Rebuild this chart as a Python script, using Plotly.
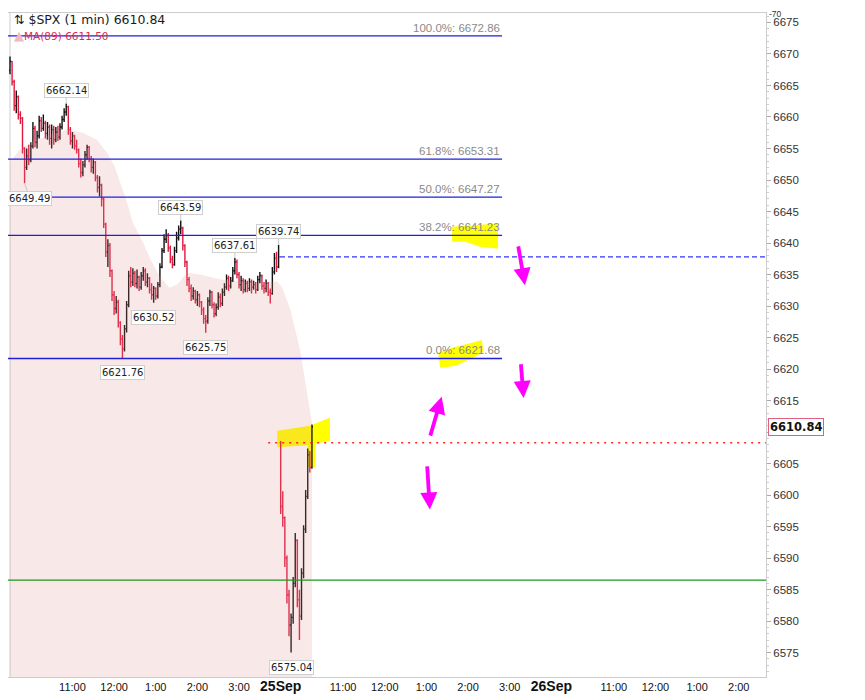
import plotly.graph_objects as go

# ---- price bars, 3-minute steps, minutes counted from 24Sep 9:30 (sessions joined) ----
open_24 = 6667.4
high_24 = [
    6669.6, 6668.9, 6665.9, 6664.2, 6663.4, 6660.9, 6660.0, 6655.2, 6655.0, 6655.6,
    6656.0, 6659.2, 6658.6, 6657.8, 6660.2, 6660.0, 6660.4, 6659.4, 6659.2, 6658.8,
    6658.8, 6658.6, 6658.4, 6658.6, 6659.0, 6660.2, 6661.4, 6662.14, 6661.8, 6658.4,
    6657.6, 6657.2, 6656.4, 6655.0, 6653.4, 6653.0, 6654.6, 6655.6, 6655.4, 6653.8,
    6653.4, 6653.0, 6650.8, 6650.6, 6649.4, 6647.2, 6643.2, 6640.6, 6640.0, 6635.8,
    6632.4, 6631.6, 6631.0, 6627.6, 6625.4, 6627.0, 6630.8, 6635.6, 6636.2, 6636.0,
    6635.6, 6635.8, 6634.8, 6635.4, 6636.2, 6636.0, 6635.2, 6634.6, 6633.6, 6633.2,
    6633.0, 6633.8, 6636.8, 6639.2, 6641.4, 6642.2, 6641.6, 6639.6, 6638.0, 6639.4,
    6641.8, 6642.8, 6643.59, 6642.6, 6639.8, 6637.2, 6634.6, 6633.4, 6633.0, 6632.6,
    6632.4, 6632.0, 6630.8, 6629.8, 6628.6, 6631.4, 6632.6, 6632.4, 6630.6, 6630.4,
    6632.2, 6632.0, 6632.8, 6633.6, 6635.0, 6634.8, 6634.6, 6636.2, 6637.61, 6637.4,
    6635.4, 6634.8, 6634.4, 6634.2, 6634.0, 6634.4, 6634.2, 6634.0, 6633.8, 6634.8,
    6635.4, 6635.0, 6633.8, 6634.2, 6633.8, 6632.8, 6636.2, 6638.4, 6638.6, 6639.74,
]
low_24 = [
    6666.8, 6665.0, 6661.0, 6660.6, 6659.6, 6658.9, 6654.2, 6649.49, 6651.6, 6652.4,
    6652.8, 6655.0, 6655.2, 6655.0, 6656.6, 6657.6, 6657.8, 6656.6, 6656.4, 6655.6,
    6655.0, 6655.6, 6656.0, 6656.2, 6656.4, 6658.0, 6659.2, 6660.2, 6657.2, 6655.6,
    6655.0, 6654.8, 6654.2, 6652.0, 6650.4, 6650.6, 6652.0, 6653.2, 6652.8, 6651.2,
    6651.0, 6649.8, 6648.0, 6647.4, 6645.8, 6642.4, 6637.8, 6636.2, 6634.6, 6630.8,
    6628.6, 6628.8, 6626.6, 6623.8, 6621.76, 6622.8, 6625.8, 6629.8, 6633.0, 6633.2,
    6633.0, 6632.8, 6632.4, 6632.6, 6634.0, 6633.2, 6633.0, 6632.0, 6631.0, 6630.52,
    6631.0, 6631.2, 6633.0, 6636.0, 6638.4, 6640.0, 6638.6, 6636.8, 6636.0, 6636.4,
    6638.4, 6640.4, 6641.4, 6638.8, 6636.2, 6633.2, 6632.2, 6630.8, 6631.0, 6630.4,
    6630.0, 6629.8, 6628.6, 6627.2, 6625.75, 6627.2, 6630.0, 6629.6, 6628.2, 6628.4,
    6629.4, 6629.8, 6630.0, 6631.6, 6632.6, 6632.4, 6632.8, 6633.8, 6635.0, 6634.4,
    6632.8, 6632.4, 6632.0, 6632.2, 6632.2, 6632.4, 6632.0, 6632.6, 6632.0, 6632.4,
    6633.6, 6632.6, 6632.0, 6632.2, 6631.6, 6630.4, 6631.8, 6635.0, 6635.4, 6636.0,
]
close_24 = [
    6668.8, 6665.6, 6661.8, 6663.2, 6660.4, 6659.8, 6655.0, 6652.0, 6653.8, 6653.2,
    6655.4, 6658.2, 6656.0, 6657.0, 6659.4, 6658.2, 6659.0, 6657.4, 6658.4, 6656.6,
    6658.0, 6656.4, 6657.6, 6656.8, 6658.4, 6659.6, 6660.8, 6661.6, 6658.0, 6656.2,
    6657.0, 6655.4, 6654.8, 6652.6, 6651.2, 6652.4, 6654.0, 6655.2, 6653.4, 6652.0,
    6652.8, 6650.4, 6648.8, 6649.2, 6647.0, 6643.0, 6638.6, 6639.6, 6635.6, 6631.8,
    6629.6, 6630.6, 6627.4, 6624.8, 6623.2, 6626.4, 6630.2, 6634.8, 6633.8, 6635.2,
    6633.6, 6634.6, 6633.0, 6634.8, 6635.6, 6633.8, 6634.4, 6632.6, 6631.8, 6632.8,
    6631.6, 6633.4, 6636.2, 6638.8, 6640.6, 6641.2, 6639.2, 6637.4, 6636.6, 6638.8,
    6640.8, 6642.2, 6642.4, 6639.6, 6637.0, 6634.2, 6632.8, 6631.6, 6632.4, 6631.0,
    6631.8, 6630.6, 6629.4, 6628.0, 6627.6, 6630.8, 6632.2, 6630.2, 6628.8, 6629.8,
    6631.4, 6630.4, 6632.2, 6633.0, 6634.4, 6633.2, 6634.0, 6635.6, 6637.0, 6635.0,
    6633.4, 6634.0, 6632.6, 6633.6, 6632.8, 6633.8, 6633.0, 6633.4, 6632.6, 6634.2,
    6634.8, 6633.2, 6632.8, 6633.6, 6632.2, 6632.0, 6635.4, 6637.6, 6636.2, 6637.8,
]

open_25 = 6608.3
high_25 = [6608.6, 6600.6, 6596.6, 6590.4, 6585.0, 6581.2, 6587.0, 6594.0,
           6593.0, 6585.0, 6588.4, 6595.2, 6600.8, 6607.4, 6607.0, 6611.2]
low_25 = [6597.0, 6595.0, 6588.6, 6582.8, 6577.6, 6575.04, 6579.6, 6585.4,
          6582.2, 6577.0, 6580.2, 6586.8, 6594.0, 6599.4, 6603.6, 6604.2]
close_25 = [6598.2, 6596.4, 6590.0, 6584.2, 6579.4, 6580.6, 6586.0, 6592.8,
            6583.4, 6580.8, 6587.6, 6594.6, 6599.8, 6606.4, 6604.4, 6610.84]

bar_minutes = list(range(0, 390, 3)) + list(range(390, 438, 3))

# MA(89) read at a few points
ma_minutes = [0, 14, 33, 58, 82, 105, 125, 140, 151, 163, 170, 177, 192, 202, 216,
              230, 241, 255, 274, 303, 336, 360, 385, 392, 404, 418, 425, 435]
ma_values = [6652.9, 6654.8, 6656.1, 6657.2, 6658.0, 6657.5, 6656.4, 6654.3, 6652.1,
             6648.0, 6646.0, 6643.2, 6640.0, 6637.5, 6634.6, 6632.9, 6633.4, 6635.3,
             6635.0, 6634.2, 6633.9, 6633.7, 6633.9, 6633.0, 6629.4, 6623.0, 6618.3, 6611.5]

# fibonacci retracement
fib_pcts = ["100.0%", "61.8%", "50.0%", "38.2%", "0.0%"]
fib_values = [6672.86, 6653.31, 6647.27, 6641.23, 6621.68]
fib_end = 709

green_level = 6586.5
open_level = 6608.3
prev_close_level = 6637.8

# swing labels: bar index, value, above/below
swing_idx = [27, 7, 82, 129, 108, 69, 94, 54, 135]
swing_val = [6662.14, 6649.49, 6643.59, 6639.74, 6637.61, 6630.52, 6625.75, 6621.76, 6575.04]
swing_high = [True, False, True, True, True, False, False, False, False]
swing_dx = [0, 5, 0, 0, 0, 0, 0, 0, 0]

# x axis
tick_minutes = [0, 90, 150, 210, 270, 330, 390, 480, 540, 600, 660, 720,
                780, 870, 930, 990, 1050]
tick_labels = ["24Sep", "11:00", "12:00", "1:00", "2:00", "3:00", "25Sep", "11:00",
               "12:00", "1:00", "2:00", "3:00", "26Sep", "11:00", "12:00", "1:00", "2:00"]
day_labels = {"24Sep", "25Sep", "26Sep"}

# hand drawn marks (minutes, price)
arrow_tail_min = [732, 736, 605, 601]
arrow_tail_val = [6639.7, 6621.0, 6609.2, 6604.8]
arrow_tip_min = [742, 740, 622, 605]
arrow_tip_val = [6633.3, 6615.4, 6615.6, 6597.7]

yellow_blobs = [
    ([637, 703, 703, 677, 656, 637], [6642.6, 6643.1, 6639.1, 6639.4, 6640.2, 6640.2]),
    ([617, 637, 660, 680, 682, 662, 641, 620],
     [6622.6, 6623.4, 6624.0, 6624.6, 6622.7, 6621.5, 6620.5, 6620.2]),
    ([385, 432, 450, 461, 461, 440, 440, 429, 429, 385],
     [6610.2, 6611.0, 6611.8, 6612.3, 6608.6, 6608.2, 6604.4, 6604.4, 6607.9, 6607.6]),
]

x_range = [-2.9, 1089.3]
y_range = [6571.14, 6676.5]

opens = [open_24] + close_24[:-1] + [open_25] + close_25[:-1]
highs = high_24 + high_25
lows = low_24 + low_25
closes = close_24 + close_25

fig = go.Figure()
fig.add_trace(go.Scatter(
    x=ma_minutes, y=ma_values, mode="lines", line=dict(width=0),
    fill="tozeroy", fillcolor="rgba(226,140,140,0.2)", hoverinfo="skip"))
fig.add_trace(go.Ohlc(
    x=bar_minutes, open=opens, high=highs, low=lows, close=closes,
    increasing=dict(line=dict(color="#111111", width=1.4)),
    decreasing=dict(line=dict(color="#e0193f", width=1.4)),
    tickwidth=0.5))

shapes = []
for xs, ys in yellow_blobs:
    path = "M " + " L ".join(f"{a},{b}" for a, b in zip(xs, ys)) + " Z"
    shapes.append(dict(type="path", path=path, fillcolor="#ffff00",
                       line=dict(width=0), layer="below"))
shapes.append(dict(type="line", x0=0, x1=0, y0=y_range[0], y1=y_range[1],
                   line=dict(color="#cccccc", width=1), layer="below"))
for lvl in fib_values:
    shapes.append(dict(type="line", x0=x_range[0], x1=fib_end, y0=lvl, y1=lvl,
                       line=dict(color="#1f1fdc", width=1.3)))
shapes.append(dict(type="line", x0=x_range[0], x1=x_range[1], y0=green_level, y1=green_level,
                   line=dict(color="#1b9a1b", width=1.2)))
shapes.append(dict(type="line", x0=372, x1=x_range[1], y0=open_level, y1=open_level,
                   line=dict(color="#ff2020", width=1.5, dash="2px,5px")))
shapes.append(dict(type="line", x0=389, x1=x_range[1], y0=prev_close_level, y1=prev_close_level,
                   line=dict(color="#3333ff", width=1.2, dash="5px,3px")))

ann = []
for pct, val in zip(fib_pcts, fib_values):
    ann.append(dict(x=fib_end, y=val, text=f"{pct}: {val:.2f}", showarrow=False,
                    xanchor="right", yanchor="bottom",
                    font=dict(family="Liberation Sans", size=11.5, color="#8a8a8a")))
for idx, val, hi, dx in zip(swing_idx, swing_val, swing_high, swing_dx):
    ann.append(dict(x=bar_minutes[idx], y=val, text=f"{val:.2f}", showarrow=True,
                    arrowhead=0, arrowwidth=1, arrowcolor="#c8c8c8",
                    ax=dx, ay=-13 if hi else 15,
                    bgcolor="white", bordercolor="#cfcfcf", borderwidth=1, borderpad=1,
                    font=dict(family="DejaVu Sans", size=10, color="#222222")))
for tx, ty, hx, hy in zip(arrow_tail_min, arrow_tail_val, arrow_tip_min, arrow_tip_val):
    ann.append(dict(x=hx, y=hy, ax=tx, ay=ty, axref="x", ayref="y", text="",
                    showarrow=True, arrowhead=2, arrowsize=0.9, arrowwidth=3.8,
                    arrowcolor="#ff00ff"))
ann.append(dict(xref="paper", yref="paper", x=0.0053, y=0.9895,
                text="⇅ $SPX (1 min) 6610.84", showarrow=False,
                xanchor="left", yanchor="middle",
                font=dict(family="DejaVu Sans", size=12.5, color="#1a1a1a")))
ann.append(dict(xref="paper", yref="paper", x=0.0053, y=0.9654,
                text='<span style="color:#f4b8c4;font-size:13px">▲</span>MA(89) 6611.50',
                showarrow=False, xanchor="left", yanchor="middle",
                font=dict(family="DejaVu Sans", size=10.5, color="#dc2c50")))
ann.append(dict(xref="paper", yref="y", x=1.0026, y=closes[-1],
                text=f"<b>{closes[-1]:.2f}</b>", showarrow=False, xanchor="left",
                bgcolor="white", bordercolor="#e06080", borderwidth=1, borderpad=1,
                font=dict(family="DejaVu Sans", size=11.5, color="#111111")))
ann.append(dict(xref="paper", yref="paper", x=1.002, y=1.0075, text="-70",
                showarrow=False, xanchor="left", yanchor="top", borderpad=0,
                font=dict(family="Liberation Sans", size=8.5, color="#333333")))

ticktext = [f'<span style="font-size:14px"><b>{t}</b></span>' if t in day_labels else t
            for t in tick_labels]

# page adds an 8px body margin, so the figure is 8px smaller each way
fig.update_layout(
    width=857, height=692,
    margin=dict(l=0, r=99, t=5, b=23),
    paper_bgcolor="white", plot_bgcolor="white",
    showlegend=False,
    shapes=shapes, annotations=ann,
    xaxis=dict(range=x_range, rangeslider=dict(visible=False), showgrid=False,
               zeroline=False, showline=True, mirror=True, linecolor="#cccccc",
               tickmode="array", tickvals=tick_minutes, ticktext=ticktext, ticks="",
               tickfont=dict(family="Liberation Sans", size=11, color="#111111")),
    yaxis=dict(range=y_range, side="right", showgrid=False, zeroline=False,
               showline=True, linecolor="#cccccc", tick0=6575, dtick=5,
               ticks="outside", ticklen=4, tickcolor="#aaaaaa",
               minor=dict(dtick=1, ticks="outside", ticklen=2, tickcolor="#cccccc"),
               tickfont=dict(family="Liberation Sans", size=11.5, color="#333333")),
)

fig.write_html("out.html")
